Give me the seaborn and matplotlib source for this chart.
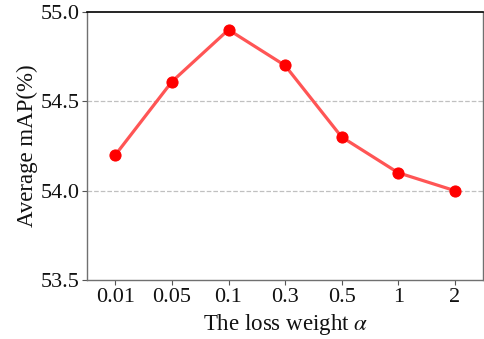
import matplotlib
matplotlib.use("Agg")
import matplotlib.pyplot as plt
import seaborn as sns
import pandas as pd

alphas = ["0.01", "0.05", "0.1", "0.3", "0.5", "1", "2"]
avg_map = [54.2, 54.61, 54.9, 54.7, 54.3, 54.1, 54.0]
y_ticks = [53.5, 54.0, 54.5, 55.0]

sns.set_style("white")
plt.rcParams['font.family'] = ['Liberation Serif', 'DejaVu Serif']
plt.rcParams['mathtext.fontset'] = 'stix'

fig = plt.figure(figsize=(4.84, 3.39), dpi=100)
ax = fig.add_axes([0.18, 0.174, 0.818, 0.791])

df = pd.DataFrame({"alpha": alphas, "map": avg_map})
for y in [54.0, 54.5]:
    ax.axhline(y, color='#c0c0c0', linestyle='--', linewidth=0.9, zorder=0)

sns.lineplot(data=df, x="alpha", y="map", ax=ax, color='#ff5555', linewidth=2.3,
             marker='o', markersize=8, markerfacecolor='#ff0000',
             markeredgecolor='#ff0000', sort=False)

ax.set_xlim(-0.5, 6.5)
ax.set_ylim(53.5, 55.0)
ax.set_yticks(y_ticks)
ax.set_yticklabels([f"{v:.1f}" for v in y_ticks])
ax.set_xlabel(r"The loss weight $\alpha$", fontsize=16.5, labelpad=4, color='#111111')
ax.set_ylabel("Average mAP(%)", fontsize=16.5, labelpad=2, color='#111111')
ax.tick_params(axis='both', labelsize=16, length=3.5, width=0.8, color='#555555',
               labelcolor='#111111', direction='out', pad=2)
ax.tick_params(left=True, bottom=True)

for side in ['left', 'bottom', 'right']:
    ax.spines[side].set_color('#707070')
    ax.spines[side].set_linewidth(1.0)
ax.spines['top'].set_color('black')
ax.spines['top'].set_linewidth(1.2)

fig.savefig("out.png", dpi=100)
